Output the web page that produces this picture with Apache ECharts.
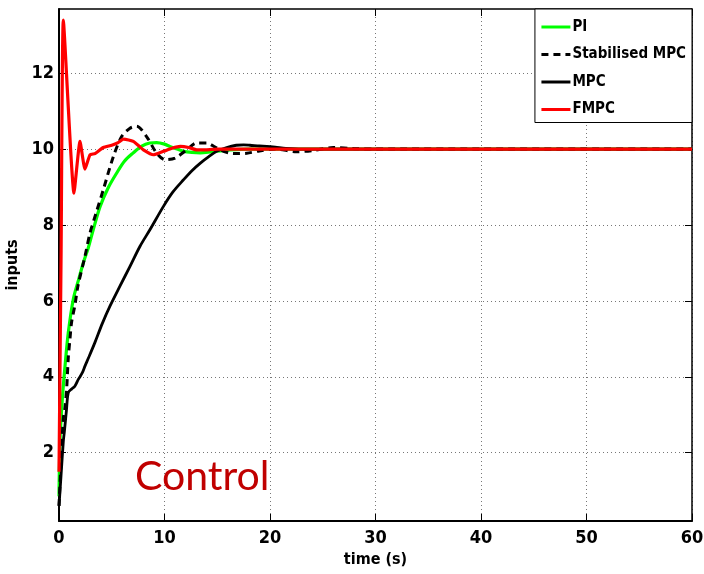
<!DOCTYPE html>
<html>
<head>
<meta charset="utf-8">
<script src="https://cdn.jsdelivr.net/npm/echarts@6/dist/echarts.min.js"></script>
<style>
html,body{margin:0;padding:0;background:#fff;}
#chart{width:704px;height:574px;}
</style>
</head>
<body>
<div id="chart"></div>
<script>
// ---- data ----
var seriesNames = ['PI', 'Stabilised MPC', 'MPC', 'FMPC'];
var yTicks = [2, 4, 6, 8, 10, 12];

var piT = [0, 0.1, 0.31, 0.57, 0.88, 1.36, 1.9, 2.3, 2.78, 3.25, 3.9, 4.7, 5.47, 6.2, 7.04, 7.8, 8.6, 9.26, 10.0, 10.5, 11.2, 11.8, 12.6, 13.4, 14.5, 16, 18, 20, 25, 30, 40, 50, 60];
var piV = [0.85, 2.35, 3.4, 4.28, 5.16, 6.05, 6.6, 7.0, 7.4, 7.88, 8.49, 9.0, 9.37, 9.68, 9.9, 10.07, 10.16, 10.17, 10.13, 10.07, 10.0, 9.94, 9.91, 9.9, 9.93, 9.97, 10.0, 10.0, 10.0, 10.0, 10.0, 10.0, 10.0];

var smpcT = [0, 0.2, 0.41, 0.57, 0.73, 0.88, 1.04, 1.2, 1.52, 1.8, 2.46, 2.94, 3.5, 4.2, 5.15, 5.94, 6.73, 7.36, 8.3, 9.26, 10.05, 11.0, 12.1, 13.05, 14.0, 14.8, 15.6, 16.2, 16.8, 17.8, 19.0, 20.5, 22.5, 24.0, 26.0, 28.0, 30, 40, 50, 60];
var smpcV = [0.6, 1.8, 2.9, 3.2, 3.7, 4.5, 5.0, 5.45, 5.9, 6.4, 7.17, 7.79, 8.3, 8.93, 9.8, 10.33, 10.55, 10.6, 10.33, 9.89, 9.72, 9.76, 9.98, 10.16, 10.16, 10.05, 9.94, 9.89, 9.88, 9.89, 9.95, 10.0, 9.93, 9.96, 10.04, 10.01, 10.0, 10.0, 10.0, 10.0];

var mpcT = [0, 0.19, 0.41, 0.5, 0.7, 0.88, 1.2, 1.5, 1.83, 2.2, 2.46, 2.8, 3.4, 4.1, 4.83, 5.8, 6.73, 7.68, 8.63, 9.9, 10.8, 11.8, 12.6, 13.4, 14.2, 14.95, 15.9, 16.8, 17.5, 18.1, 19.0, 19.7, 20.5, 21.5, 23, 25, 30, 40, 50, 60];
var mpcV = [0.6, 1.38, 2.3, 2.53, 3.1, 3.58, 3.68, 3.75, 3.93, 4.1, 4.28, 4.5, 4.9, 5.4, 5.86, 6.4, 6.91, 7.44, 7.88, 8.49, 8.87, 9.19, 9.43, 9.63, 9.8, 9.94, 10.04, 10.1, 10.11, 10.1, 10.08, 10.07, 10.05, 10.02, 10.0, 10.0, 10.0, 10.0, 10.0, 10.0];

var fmpcT = [0, 0.2, 0.41, 1.42, 1.99, 2.46, 2.94, 3.41, 4.2, 5.0, 5.6, 6.1, 6.6, 7.04, 7.5, 8.0, 8.94, 9.9, 10.7, 11.5, 12.3, 13.05, 14, 15, 17, 20, 30, 40, 50, 60];
var fmpcV = [1.5, 7.3, 13.4, 8.84, 10.2, 9.47, 9.85, 9.88, 10.04, 10.1, 10.17, 10.26, 10.24, 10.2, 10.1, 9.98, 9.85, 9.94, 10.02, 10.07, 10.04, 9.98, 9.98, 10.0, 10.0, 10.0, 10.0, 10.0, 10.0, 10.0];

function pairs(t, v) { return t.map(function (x, i) { return [x, v[i]]; }); }

var FONT = "'DejaVu Sans Condensed', 'Liberation Sans Narrow', 'Liberation Sans', sans-serif";

var chart = echarts.init(document.getElementById('chart'), null, {renderer: 'canvas'});
var gridLine = {show: true, lineStyle: {color: '#777', width: 1, type: [1, 3]}};
var option = {
  animation: false,
  backgroundColor: '#fff',
  grid: {left: 59, right: 12, top: 9, bottom: 53, containLabel: false, outerBoundsMode: 'none'},
  xAxis: [{
    type: 'value', min: 0, max: 60, interval: 10, position: 'bottom',
    name: 'time (s)', nameLocation: 'middle', nameGap: 31,
    nameTextStyle: {fontFamily: FONT, fontWeight: 'bold', fontSize: 16, color: '#000'},
    axisLine: {show: true, onZero: false, lineStyle: {color: '#000', width: 2}},
    axisTick: {show: true, inside: true, length: 7, lineStyle: {color: '#000', width: 1}},
    axisLabel: {fontFamily: FONT, fontWeight: 'bold', fontSize: 18, color: '#000', margin: 8, showMaxLabel: true, showMinLabel: true},
    splitLine: gridLine
  }, {
    type: 'value', min: 0, max: 60, interval: 10, position: 'top',
    axisLine: {show: true, onZero: false, lineStyle: {color: '#000', width: 1.5}},
    axisTick: {show: true, inside: true, length: 7, lineStyle: {color: '#000', width: 1}},
    axisLabel: {show: false}, splitLine: {show: false}
  }],
  yAxis: [{
    type: 'value', min: 0.2, max: 13.69, position: 'left',
    name: 'inputs', nameLocation: 'middle', nameGap: 24, nameRotate: 90,
    nameTextStyle: {fontFamily: FONT, fontWeight: 'bold', fontSize: 16, color: '#000'},
    axisLine: {show: true, onZero: false, lineStyle: {color: '#000', width: 2}},
    axisTick: {show: true, inside: true, length: 7, customValues: yTicks, lineStyle: {color: '#000', width: 1}},
    axisLabel: {fontFamily: FONT, fontWeight: 'bold', fontSize: 18, color: '#000', margin: 5, customValues: yTicks},
    splitLine: gridLine
  }, {
    type: 'value', min: 0.2, max: 13.69, position: 'right',
    axisLine: {show: true, onZero: false, lineStyle: {color: '#000', width: 1.5}},
    axisTick: {show: true, inside: true, length: 7, customValues: yTicks, lineStyle: {color: '#000', width: 1}},
    axisLabel: {show: false, customValues: yTicks}, splitLine: {show: false}
  }],
  legend: {
    orient: 'vertical', right: 12, top: 9,
    backgroundColor: '#fff', borderColor: '#000', borderWidth: 1,
    padding: [9, 6, 4, 5], itemGap: 9.5, itemWidth: 29, itemHeight: 14,
    itemStyle: {opacity: 0},
    lineStyle: {width: 3},
    textStyle: {fontFamily: FONT, fontWeight: 'bold', fontSize: 15, color: '#000', lineHeight: 18, padding: [0, 0, 0, -3]},
    data: seriesNames
  },
  graphic: [{
    type: 'text', left: 135, top: 456, z: 50,
    style: {text: 'Control', fill: '#c00000', font: "41px Lato, 'Open Sans', sans-serif"}
  }],
  series: [
    {name: seriesNames[0], type: 'line', data: pairs(piT, piV), symbol: 'none', smooth: 0.3, z: 2,
     lineStyle: {color: '#00ff00', width: 3.2}, itemStyle: {color: '#00ff00'}},
    {name: seriesNames[1], type: 'line', data: pairs(smpcT, smpcV), symbol: 'none', smooth: 0.3, z: 3,
     lineStyle: {color: '#000', width: 3, type: [7, 5]}, itemStyle: {color: '#000'}},
    {name: seriesNames[2], type: 'line', data: pairs(mpcT, mpcV), symbol: 'none', smooth: 0.3, z: 4,
     lineStyle: {color: '#000', width: 2.8}, itemStyle: {color: '#000'}},
    {name: seriesNames[3], type: 'line', data: pairs(fmpcT, fmpcV), symbol: 'none', smooth: 0.15, z: 5,
     lineStyle: {color: '#ff0000', width: 3.2}, itemStyle: {color: '#ff0000'}}
  ]
};
chart.setOption(option);
</script>
</body>
</html>
